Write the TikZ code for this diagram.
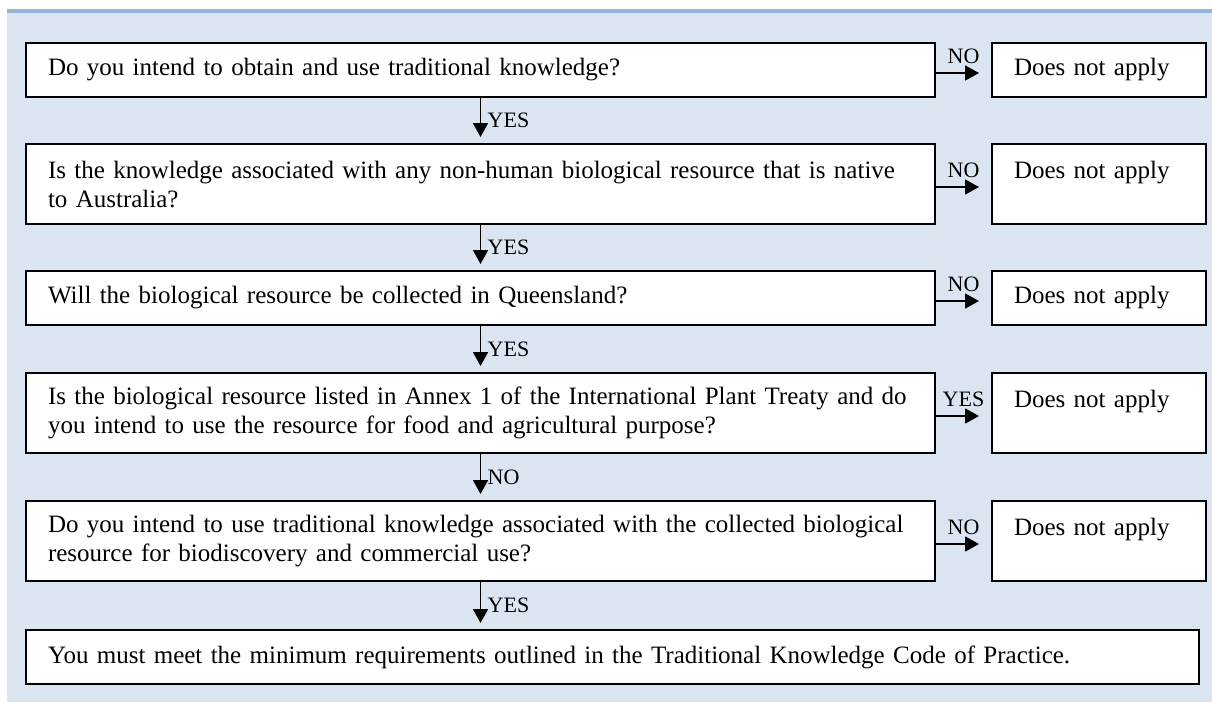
\documentclass[tikz,border=0pt]{standalone}
\usepackage{fontspec}
\setmainfont{Liberation Serif}
\usetikzlibrary{calc,arrows.meta}
\definecolor{panelblue}{HTML}{DBE5F1}
\definecolor{stripeblue}{HTML}{95B3D7}
\tikzset{
  qbox/.style={draw, line width=2pt, fill=white, anchor=north west, align=left,
    inner xsep=22pt, inner ysep=0pt, text width=865pt, font=\fontsize{25}{29}\selectfont},
  nbox/.style={qbox, text width=170pt},
  flow/.style={-{Triangle[length=14pt,width=15pt]}, line width=1.8pt},
  lbl/.style={font=\fontsize{22}{24}\selectfont}
}
\begin{document}
\begin{tikzpicture}[x=1pt,y=-1pt]
    \useasboundingbox (0,0) rectangle (1212,702);
    \fill[panelblue] (7,10) rectangle (1212,702);
    \fill[stripeblue] (7,9) rectangle (1212,13);
    \node[qbox, minimum height=54pt] (q1) at (25,42) {Do you intend to obtain and use traditional knowledge?};
    \node[qbox, minimum height=80pt] (q2) at (25,143) {Is the knowledge associated with any non-human biological resource that is native\\to Australia?};
    \node[qbox, minimum height=54pt] (q3) at (25,270) {Will the biological resource be collected in Queensland?};
    \node[qbox, minimum height=80pt] (q4) at (25,372) {Is the biological resource listed in Annex 1 of the International Plant Treaty and do\\you intend to use the resource for food and agricultural purpose?};
    \node[qbox, minimum height=80pt] (q5) at (25,500) {Do you intend to use traditional knowledge associated with the collected biological\\resource for biodiscovery and commercial use?};
    \node[qbox, minimum height=54pt, text width=1129pt] (fin) at (25,629) {You must meet the minimum requirements outlined in the Traditional Knowledge Code of Practice.};
    \foreach \r/\h/\ans in {1/54/NO,2/80/NO,3/54/NO,4/80/YES,5/80/NO}
    {
        \node[nbox, minimum height=\h pt] (n\r) at ($(q\r.north west)+(966,0)$) {Does not apply\ifnum\h>60\\~\fi};
        \draw[flow, shorten >=12pt] ([yshift=-3pt]q\r.east) -- ([yshift=-3pt]q\r.east -| n\r.west) node[lbl, midway, above=5pt] {\ans};
    }
    \foreach \a/\b/\ans in {q1/q2/YES,q2/q3/YES,q3/q4/YES,q4/q5/NO,q5/fin/YES}
    \draw[flow, shorten >=6pt] (\a.south) -- (\b.north -| \a.south) node[lbl, midway, right=3pt] {\ans};
\end{tikzpicture}
\end{document}
